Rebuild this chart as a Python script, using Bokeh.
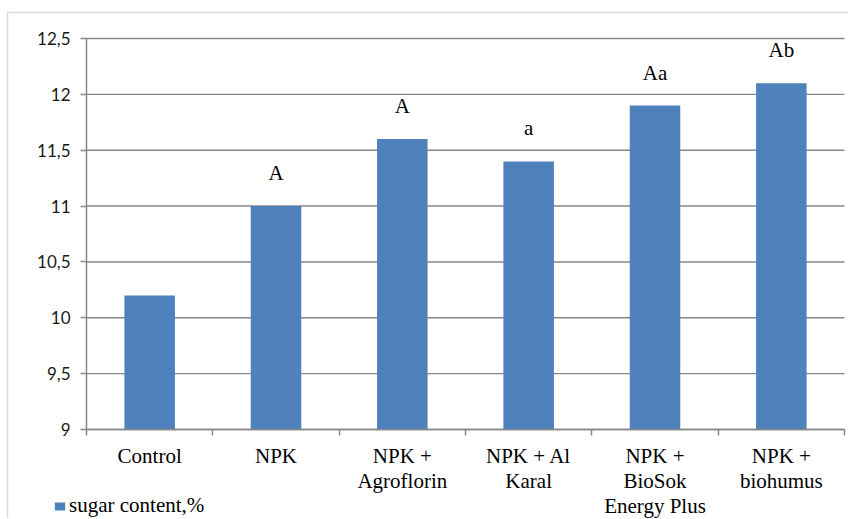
from bokeh.plotting import figure
from bokeh.models import (FixedTicker, BoxAnnotation, Legend, LegendItem,
                          ColumnDataSource, Range1d, LinearAxis)
from bokeh.core.properties import value
from bokeh.embed import file_html
from bokeh.resources import INLINE

# ---- data ----
categories = ["Control", "NPK", "NPK +\nAgroflorin", "NPK + Al\nKaral",
              "NPK +\nBioSok\nEnergy Plus", "NPK +\nbiohumus"]
sugar = [10.2, 11.0, 11.6, 11.4, 11.9, 12.1]
letters = ["", "A", "A", "a", "Aa", "Ab"]
y_ticks = [9, 9.5, 10, 10.5, 11, 11.5, 12, 12.5]
y_tick_labels = ["9", "9,5", "10", "10,5", "11", "11,5", "12", "12,5"]
series_name = "sugar content,%"

# ---- layout (pixels on the canvas) ----
W, H = 848, 518
PX0, PX1 = 86, 844      # canvas x of the plot area's left / right edge
PY_TOP, PY_BOT = 38, 429  # canvas y of the plot area's top / bottom edge
Y0, Y1 = y_ticks[0], y_ticks[-1]
N = len(categories)

sx = (PX1 - PX0) / N
sy = (PY_BOT - PY_TOP) / (Y1 - Y0)
x_start = -PX0 / sx
x_end = N + (W - PX1) / sx
y_end = Y1 + PY_TOP / sy
y_start = Y0 - (H - PY_BOT) / sy

xpos = [i + 0.5 for i in range(N)]
src = ColumnDataSource(dict(x=xpos, top=sugar, letters=letters))

GRAY = "#878787"
p = figure(width=W, height=H, output_backend="svg", toolbar_location=None,
           x_range=Range1d(x_start, x_end), y_range=Range1d(y_start, y_end),
           x_axis_type=None, y_axis_type=None,
           min_border=0, min_border_left=0, min_border_right=0,
           min_border_top=0, min_border_bottom=0)
p.outline_line_color = None
p.background_fill_color = "white"
p.border_fill_color = "white"

# outer chart border (left & top visible, others beyond the window)
p.add_layout(BoxAnnotation(left=x_start + 7 / sx, right=x_end + 5,
                           top=y_end - 12 / sy, bottom=y_start - 5,
                           fill_color=None, fill_alpha=0,
                           line_color=GRAY, line_width=1.6, level="underlay"))

# horizontal gridlines across the plot area
p.segment(x0=0, x1=N, y0=y_ticks, y1=y_ticks, line_color=GRAY, line_width=1.4)

bars = p.vbar(x="x", top="top", bottom=Y0, width=0.4, source=src,
              fill_color="#4F81BD", line_color=None)

p.text(x="x", y="top", text="letters", source=src, text_align="center",
       text_baseline="alphabetic", y_offset=-33, text_color="black",
       text_font=value("Liberation Serif"), text_font_size="21px")

# y axis
yaxis = LinearAxis(fixed_location=0, bounds=(Y0, Y1))
yaxis.ticker = FixedTicker(ticks=y_ticks)
yaxis.major_label_overrides = {t: l for t, l in zip(y_ticks, y_tick_labels)}
yaxis.axis_line_color = GRAY
yaxis.axis_line_width = 1.5
yaxis.major_tick_line_color = GRAY
yaxis.major_tick_line_width = 1.5
yaxis.major_tick_out = 6
yaxis.major_tick_in = 0
yaxis.minor_tick_line_color = None
yaxis.major_label_text_font = "Lato"
yaxis.major_label_text_font_size = "17px"
yaxis.major_label_text_color = "#1a1a1a"
yaxis.major_label_standoff = 10
p.add_layout(yaxis, "left")

# x axis
xaxis = LinearAxis(fixed_location=Y0, bounds=(0, N))
xaxis.ticker = FixedTicker(ticks=xpos, minor_ticks=list(range(N + 1)))
xaxis.major_label_overrides = {x: c for x, c in zip(xpos, categories)}
xaxis.axis_line_color = GRAY
xaxis.axis_line_width = 1.5
xaxis.major_tick_line_color = None
xaxis.major_tick_out = 6
xaxis.minor_tick_line_color = GRAY
xaxis.minor_tick_line_width = 1.5
xaxis.minor_tick_out = 6
xaxis.minor_tick_in = 0
xaxis.major_label_text_font = "Liberation Serif"
xaxis.major_label_text_font_size = "21px"
xaxis.major_label_text_color = "black"
xaxis.major_label_text_line_height = 1.06
xaxis.major_label_standoff = 8
p.add_layout(xaxis, "below")

legend = Legend(items=[LegendItem(label=series_name, renderers=[bars])],
                location=(53, 0), border_line_color=None, background_fill_alpha=0,
                padding=0, margin=0, glyph_width=13, glyph_height=10, label_standoff=3,
                label_height=10, label_text_font="Liberation Serif",
                label_text_font_size="21px", label_text_color="black")
p.add_layout(legend, "center")

open("out.html", "w").write(file_html(p, INLINE))
